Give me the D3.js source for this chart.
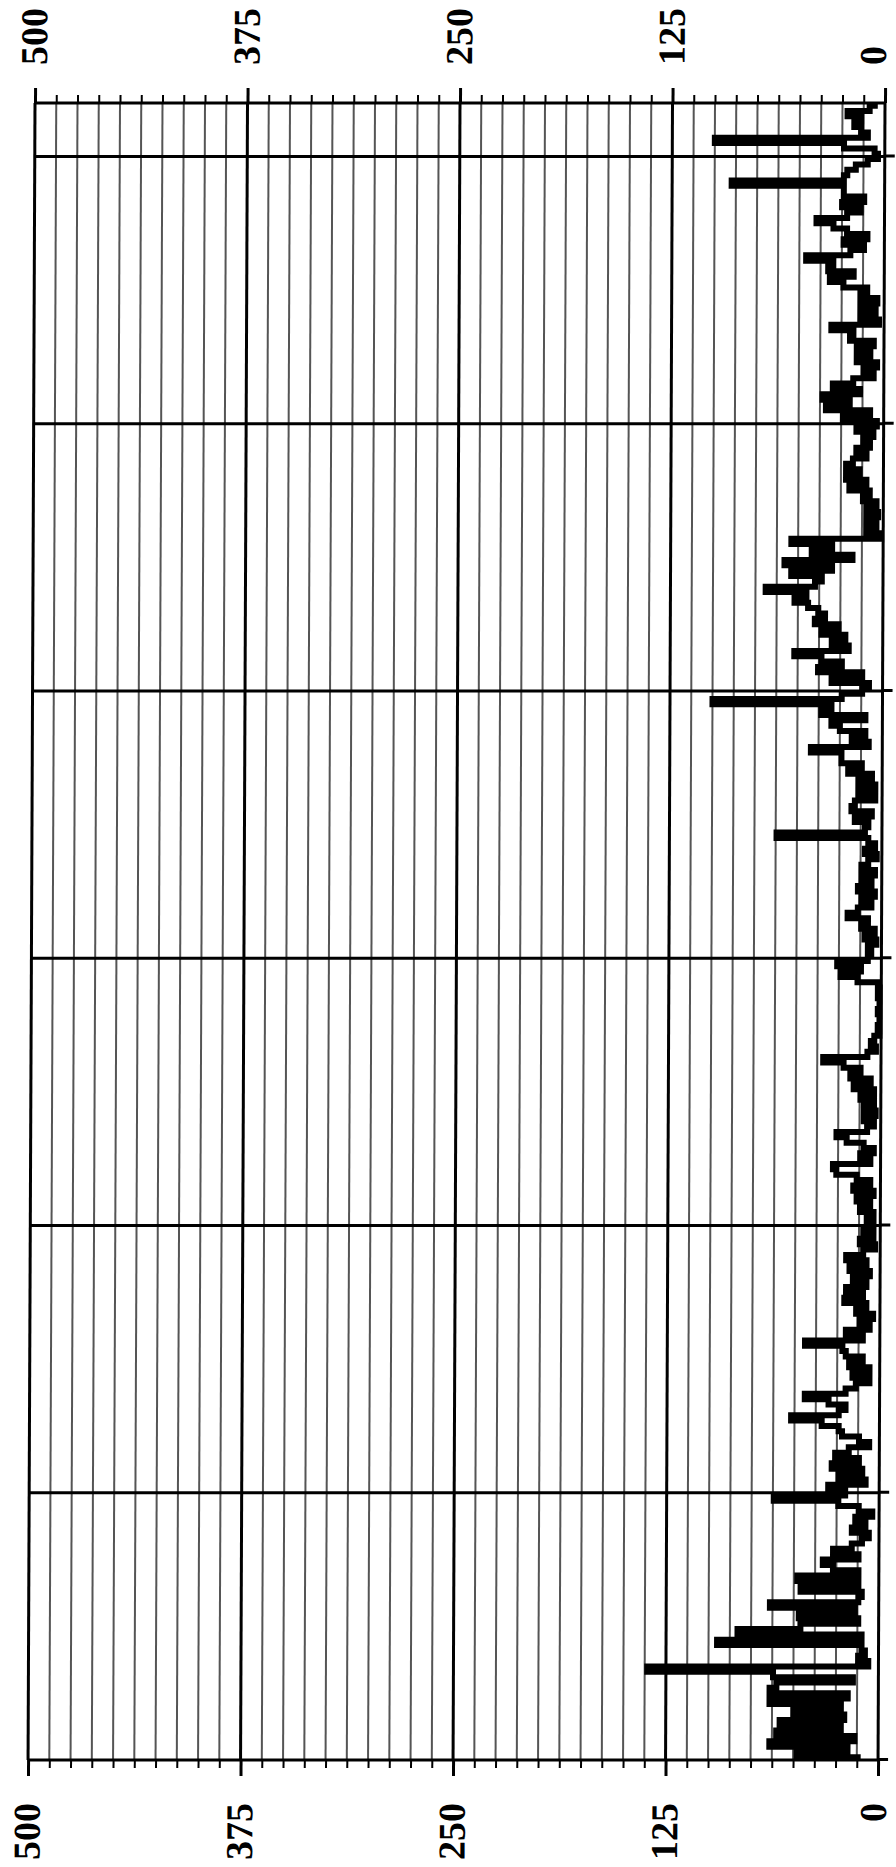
<!DOCTYPE html>
<html><head><meta charset="utf-8">
<script src="https://cdn.jsdelivr.net/npm/d3@7"></script>
<style>html,body{margin:0;padding:0;background:#fff}svg{display:block}</style>
</head><body>
<svg id="c" width="896" height="1867"></svg>
<script>
// Series values, listed from the top of the page downward (index 0 = top frame)
const values = [
  6, 9, 22, 14, 18, 14, 10, 100, 24, 6,
  4, 10, 17, 22, 24, 90, 24, 24, 12, 25,
  14, 22, 40, 30, 22, 10, 24, 12, 20, 46,
  30, 33, 18, 32, 24, 10, 14, 4, 14, 5,
  14, 3, 31, 18, 20, 6, 16, 8, 16, 4,
  12, 6, 18, 30, 14, 36, 20, 34, 8, 24,
  4, 16, 6, 12, 8, 16, 10, 18, 22, 14,
  22, 10, 20, 8, 12, 4, 10, 3, 10, 4,
  10, 2, 54, 30, 42, 18, 58, 30, 54, 36,
  40, 69, 45, 52, 44, 38, 34, 40, 26, 36,
  22, 30, 20, 52, 36, 24, 38, 12, 30, 8,
  12, 24, 100, 30, 36, 10, 30, 25, 10, 18,
  8, 42, 24, 24, 12, 20, 6, 14, 4, 14,
  4, 16, 18, 6, 16, 8, 10, 62, 8, 4,
  10, 3, 8, 12, 4, 12, 6, 14, 4, 12,
  6, 14, 20, 8, 12, 4, 10, 3, 8, 6,
  8, 26, 12, 24, 14, 2, 1, 2, 1, 1,
  2, 1, 1, 2, 1, 4, 6, 3, 8, 34,
  22, 12, 18, 6, 16, 4, 12, 4, 10, 3,
  10, 4, 8, 26, 20, 10, 4, 12, 6, 28,
  26, 14, 6, 16, 4, 14, 6, 12, 4, 8,
  4, 10, 4, 12, 3, 10, 20, 8, 18, 6,
  16, 8, 20, 10, 21, 8, 14, 4, 12, 6,
  20, 10, 44, 22, 20, 10, 18, 6, 16, 6,
  14, 20, 44, 30, 20, 24, 52, 34, 24, 22,
  12, 6, 18, 26, 12, 28, 10, 24, 8, 30,
  20, 62, 24, 12, 4, 14, 8, 16, 6, 10,
  16, 27, 12, 33, 27, 12, 48, 12, 46, 10,
  12, 64, 14, 47, 12, 46, 83, 10, 95, 10,
  8, 12, 6, 136, 62, 15, 60, 64, 18, 64,
  22, 50, 20, 58, 22, 60, 14, 64, 18, 48, 12
];
const valueDomain = [0, 500];
const valueMajorTicks = [0, 125, 250, 375, 500];
const valueMinorStep = 12.5;
const indexDomain = [0, 310];
const indexMajorLines = [0, 10, 60, 110, 160, 210, 260, 310];

const svg = d3.select('#c');
const W = 1657, H = 850;

// chart is built upright, then turned a quarter-turn counter-clockwise (with a slight scan skew)
const root = svg.append('g')
  .attr('transform', 'translate(0,103) skewX(-0.24) translate(0,-103) translate(35,1760) rotate(-90)');

const x = d3.scaleLinear().domain(indexDomain).range([W, 0]);
const y = d3.scaleLinear().domain(valueDomain).range([H, 0]);

const allValueLines = d3.range(valueDomain[0], valueDomain[1] + 1e-9, valueMinorStep);
const minorValues = allValueLines.filter(v => valueMajorTicks.indexOf(v) < 0);

// minor grid
root.append('g').selectAll('line').data(minorValues).join('line')
  .attr('x1', 0).attr('x2', W)
  .attr('y1', d => y(d)).attr('y2', d => y(d))
  .attr('stroke', '#555').attr('stroke-width', 2);

// trace
const line = d3.line().x((d, i) => x(i)).y(d => y(d)).curve(d3.curveStep);
root.append('path').datum(values)
  .attr('d', line)
  .attr('fill', 'none').attr('stroke', '#000').attr('stroke-width', 6)
  .attr('stroke-linejoin', 'miter');

// major grid on value axis
root.append('g').selectAll('line').data(valueMajorTicks).join('line')
  .attr('x1', 0).attr('x2', W)
  .attr('y1', d => y(d)).attr('y2', d => y(d))
  .attr('stroke', '#000').attr('stroke-width', 3);

// major lines across the index axis
root.append('g').selectAll('line').data(indexMajorLines).join('line')
  .attr('x1', d => x(d)).attr('x2', d => x(d))
  .attr('y1', 0).attr('y2', H)
  .attr('stroke', '#000').attr('stroke-width', 3);

const fontFam = '"Liberation Serif","Times New Roman",serif';

function styleAxis(sel, w) {
  sel.select('.domain').remove();
  sel.selectAll('.tick line').attr('stroke', '#000').attr('stroke-width', w);
}
function styleLabels(sel) {
  sel.selectAll('text').attr('font-family', fontFam).attr('font-weight', 'bold')
    .attr('font-size', 38).attr('fill', '#000').attr('dy', '0.3em');
}

// bottom-of-page value axis (left axis before turning)
root.append('g')
  .call(d3.axisLeft(y).tickValues(minorValues).tickSize(8).tickFormat(''))
  .call(s => styleAxis(s, 2));
root.append('g')
  .call(d3.axisLeft(y).tickValues(valueMajorTicks).tickSize(16).tickPadding(27).tickFormat(d3.format('d')))
  .call(s => styleAxis(s, 3))
  .call(styleLabels);

// top-of-page value axis (right axis before turning)
root.append('g').attr('transform', `translate(${W},0)`)
  .call(d3.axisRight(y).tickValues(minorValues).tickSize(8).tickFormat(''))
  .call(s => styleAxis(s, 2));
root.append('g').attr('transform', `translate(${W},0)`)
  .call(d3.axisRight(y).tickValues(valueMajorTicks).tickSize(15).tickPadding(23).tickFormat(d3.format('d')))
  .call(s => styleAxis(s, 3))
  .call(styleLabels);

// index axis ticks (right side of page)
root.append('g').attr('transform', `translate(0,${H})`)
  .call(d3.axisBottom(x).tickValues(indexMajorLines.filter(d => d > 0)).tickSize(10).tickFormat(''))
  .call(s => styleAxis(s, 3));

// keep labels inside the page: nudge any label that crosses the right edge back in
const pageW = +svg.attr('width');
svg.selectAll('text').each(function () {
  const r = this.getBoundingClientRect();
  const over = r.right - (pageW - 2);
  if (over > 0) d3.select(this).attr('y', -over);
});
</script>
</body></html>
